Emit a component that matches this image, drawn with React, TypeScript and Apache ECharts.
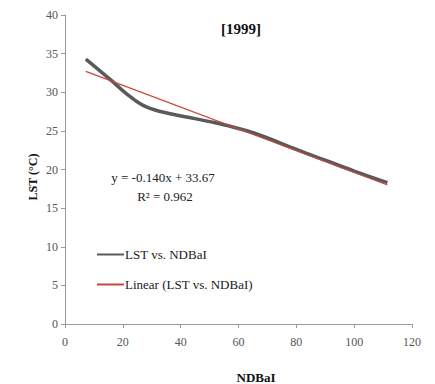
import React, { useEffect, useRef } from "react";
import * as echarts from "echarts";

const lstPoints: [number, number][] = [
  [7.2, 34.3],
  [15.5, 31.7],
  [21.3, 29.8],
  [27, 28.3],
  [33, 27.5],
  [42, 26.8],
  [50, 26.2],
  [58, 25.5],
  [67, 24.5],
  [80, 22.6],
  [90, 21.2],
  [100, 19.8],
  [111.5, 18.3],
];
const linearPoints: [number, number][] = [
  [7.2, 32.7],
  [111.5, 18.0],
];
const seriesNames = ["LST vs. NDBaI", "Linear (LST vs. NDBaI)"];
const titleText = "[1999]";
const equationLines = ["y = -0.140x + 33.67", "R² = 0.962"];
const xName = "NDBaI";
const yName = "LST (°C)";

const serif = "'Liberation Serif', serif";

export default function App() {
  const ref = useRef<HTMLDivElement>(null);
  useEffect(() => {
    if (!ref.current) return;
    const chart = echarts.init(ref.current, undefined, { renderer: "svg" });
    chart.setOption({
      animation: false,
      backgroundColor: "#ffffff",
      textStyle: { fontFamily: serif },
      grid: { left: 65, right: 23, top: 15, bottom: 60, containLabel: false },
      xAxis: {
        type: "value",
        min: 0,
        max: 120,
        interval: 20,
        splitLine: { show: false },
        axisLine: { lineStyle: { color: "#9a9a9a", width: 1 } },
        axisTick: { show: true, length: 4, lineStyle: { color: "#9a9a9a" } },
        axisLabel: { color: "#555555", fontFamily: serif, fontSize: 12, margin: 12 },
      },
      yAxis: {
        type: "value",
        min: 0,
        max: 40,
        interval: 5,
        splitLine: { show: false },
        axisLine: { show: true, lineStyle: { color: "#9a9a9a", width: 1 } },
        axisTick: { show: true, length: 4, lineStyle: { color: "#9a9a9a" } },
        axisLabel: { color: "#555555", fontFamily: serif, fontSize: 12, margin: 7 },
      },
      legend: {
        orient: "vertical",
        left: 91,
        top: 243,
        itemGap: 17,
        itemWidth: 27,
        itemHeight: 12,
        textStyle: { fontFamily: serif, fontSize: 13, color: "#1a1a1a", padding: [0, 0, 0, -4] },
        data: [
          { name: seriesNames[0], itemStyle: { opacity: 0 } },
          { name: seriesNames[1], itemStyle: { opacity: 0 } },
        ],
      },
      series: [
        {
          name: seriesNames[0],
          type: "line",
          data: lstPoints,
          smooth: 0.4,
          symbol: "none",
          lineStyle: { color: "#5a5a5a", width: 3.5 },
          itemStyle: { color: "#5a5a5a" },
        },
        {
          name: seriesNames[1],
          type: "line",
          data: linearPoints,
          symbol: "none",
          lineStyle: { color: "#c8463a", width: 1.2 },
          itemStyle: { color: "#c8463a" },
        },
      ],
      graphic: [
        {
          type: "text",
          x: 241,
          y: 29,
          style: { text: titleText, font: `bold 15px ${serif}`, fill: "#111", align: "center", verticalAlign: "middle" },
        },
        {
          type: "text",
          x: 163,
          y: 177,
          style: { text: equationLines[0], font: `13px ${serif}`, fill: "#222", align: "center", verticalAlign: "middle" },
        },
        {
          type: "text",
          x: 165,
          y: 196,
          style: { text: equationLines[1], font: `13px ${serif}`, fill: "#222", align: "center", verticalAlign: "middle" },
        },
        {
          type: "text",
          x: 256,
          y: 377,
          style: { text: xName, font: `bold 13px ${serif}`, fill: "#111", align: "center", verticalAlign: "middle" },
        },
        {
          type: "text",
          x: 33,
          y: 177,
          rotation: Math.PI / 2,
          style: { text: yName, font: `bold 12px ${serif}`, fill: "#111", align: "center", verticalAlign: "middle" },
        },
      ],
    });
    return () => chart.dispose();
  }, []);
  return (
    <div
      ref={ref}
      style={{ position: "fixed", left: 0, top: 0, width: 435, height: 384, background: "#fff" }}
    />
  );
}
